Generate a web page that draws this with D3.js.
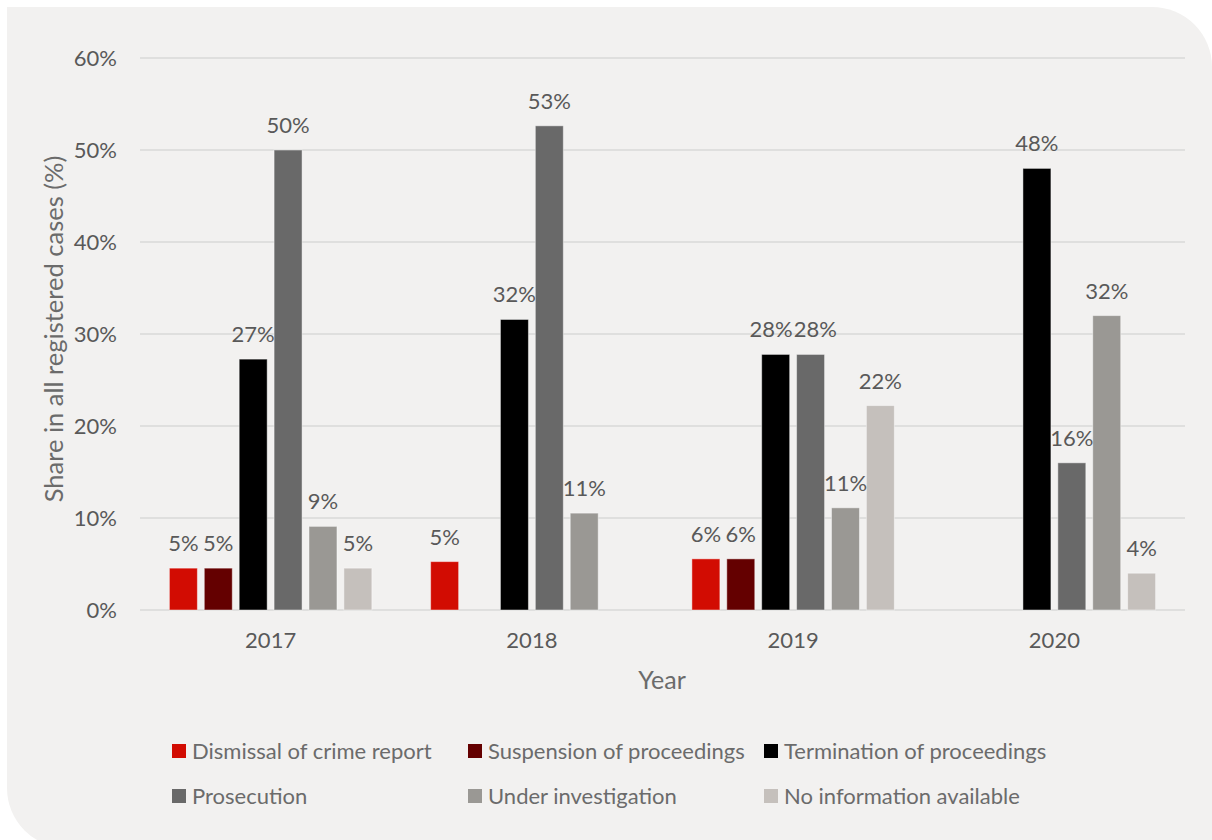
<!DOCTYPE html>
<html>
<head>
<meta charset="utf-8">
<script src="https://cdn.jsdelivr.net/npm/d3@7"></script>
<style>
  html, body { margin: 0; padding: 0; background: #ffffff; }
  svg { display: block; }
  text { font-family: Lato, "Open Sans", sans-serif; fill: #595959; }
</style>
</head>
<body>
<svg id="chart" width="1212" height="840"></svg>
<script>
// Outcome of registered cases per year (share of all registered cases)
const years = ["2017", "2018", "2019", "2020"];
const seriesNames = [
  "Dismissal of crime report",
  "Suspension of proceedings",
  "Termination of proceedings",
  "Prosecution",
  "Under investigation",
  "No information available"
];
const seriesColors = ["#d20c02", "#640000", "#000000", "#696969", "#9a9894", "#c5c0bc"];

// values per series, one entry per year (null = no cases)
const dismissal   = [0.0455, 0.0526, 0.0556, null];
const suspension  = [0.0455, null,   0.0556, null];
const termination = [0.2727, 0.3158, 0.2778, 0.48];
const prosecution = [0.50,   0.5263, 0.2778, 0.16];
const underInvest = [0.0909, 0.1053, 0.1111, 0.32];
const noInfo      = [0.0455, null,   0.2222, 0.04];

const yTicks = [0, 0.1, 0.2, 0.3, 0.4, 0.5, 0.6];

const seriesValues = [dismissal, suspension, termination, prosecution, underInvest, noInfo];

const svg = d3.select("#chart");

// panel background with rounded top-right and bottom-left corners
const R = 60;
svg.append("path")
  .attr("d", `M7,7 H${1212 - R} A${R},${R} 0 0 1 1212,${7 + R} V848 H${7 + R} A${R},${R} 0 0 1 7,${848 - R} Z`)
  .attr("fill", "#f2f1f0");

const plot = { left: 140, right: 1185, top: 58, bottom: 610 };

const y = d3.scaleLinear().domain([0, 0.6]).range([plot.bottom, plot.top]);
const x0 = d3.scaleBand().domain(years).range([plot.left, plot.right])
  .paddingInner(0.225).paddingOuter(0.1125);
const x1 = d3.scaleBand().domain(seriesNames).range([0, x0.bandwidth()])
  .paddingInner(0.198).paddingOuter(0);

// gridlines
svg.append("g")
  .selectAll("line")
  .data(yTicks)
  .join("line")
  .attr("x1", plot.left).attr("x2", plot.right)
  .attr("y1", d => y(d)).attr("y2", d => y(d))
  .attr("stroke", "#d9d9d9").attr("stroke-width", 1.5);

// y axis labels
const yAxis = svg.append("g")
  .attr("transform", `translate(${plot.left},0)`)
  .call(d3.axisLeft(y).tickValues(yTicks).tickFormat(d3.format(".0%")).tickSize(0).tickPadding(23));
yAxis.select(".domain").remove();
yAxis.selectAll("text").attr("font-size", 22).style("fill", "#595959")
  .style("font-family", "Lato, 'Open Sans', sans-serif");

// x axis labels
const xAxis = svg.append("g")
  .attr("transform", `translate(0,${plot.bottom})`)
  .call(d3.axisBottom(x0).tickSize(0).tickPadding(22));
xAxis.select(".domain").remove();
xAxis.selectAll("text").attr("font-size", 22).style("fill", "#595959")
  .style("font-family", "Lato, 'Open Sans', sans-serif");

// bars
const records = [];
years.forEach((yr, yi) => {
  seriesNames.forEach((s, si) => {
    const v = seriesValues[si][yi];
    if (v != null) records.push({ year: yr, series: s, color: seriesColors[si], value: v });
  });
});

svg.append("g")
  .selectAll("rect")
  .data(records)
  .join("rect")
  .attr("x", d => x0(d.year) + x1(d.series))
  .attr("y", d => y(d.value))
  .attr("width", x1.bandwidth())
  .attr("height", d => y(0) - y(d.value))
  .attr("fill", d => d.color)
  .attr("stroke", "rgba(255,255,255,0.45)")
  .attr("stroke-width", 1);

// value labels
const labels = svg.append("g")
  .selectAll("text")
  .data(records)
  .join("text")
  .attr("x", d => x0(d.year) + x1(d.series) + x1.bandwidth() / 2)
  .attr("y", d => y(d.value) - 17)
  .attr("text-anchor", "middle")
  .attr("font-size", 22)
  .text(d => d3.format(".0%")(d.value));

// push apart neighbouring labels at the same height so they just touch
const nodes = labels.nodes();
for (let i = 1; i < nodes.length; i++) {
  const a = nodes[i - 1], b = nodes[i];
  const da = d3.select(a).datum(), db = d3.select(b).datum();
  if (da.year !== db.year || Math.abs(da.value - db.value) > 0.02) continue;
  const ba = a.getBBox(), bb = b.getBBox();
  const overlap = ba.x + ba.width - bb.x;
  if (overlap > 0) {
    const shift = overlap / 2 + 0.5;
    a.setAttribute("x", +a.getAttribute("x") - shift);
    b.setAttribute("x", +b.getAttribute("x") + shift);
  }
}

// axis titles
svg.append("text")
  .attr("transform", `translate(63,${(plot.top + plot.bottom) / 2 - 5}) rotate(-90)`)
  .attr("text-anchor", "middle")
  .attr("font-size", 25.5)
  .style("fill", "#6b6b6b")
  .text("Share in all registered cases (%)");

svg.append("text")
  .attr("x", 662).attr("y", 689)
  .attr("text-anchor", "middle")
  .attr("font-size", 25)
  .style("fill", "#6b6b6b")
  .text("Year");

// legend, three columns by two rows
const legendCols = [172, 468, 764];
const legendRows = [751, 796];
const legend = svg.append("g")
  .selectAll("g")
  .data(seriesNames)
  .join("g")
  .attr("transform", (d, i) => `translate(${legendCols[i % 3]},${legendRows[Math.floor(i / 3)]})`);
legend.append("rect")
  .attr("x", 0).attr("y", -7)
  .attr("width", 14).attr("height", 14)
  .attr("fill", (d, i) => seriesColors[i]);
legend.append("text")
  .attr("x", 20).attr("y", 8)
  .attr("font-size", 22)
  .style("fill", "#6b6b6b")
  .text(d => d);
</script>
</body>
</html>
